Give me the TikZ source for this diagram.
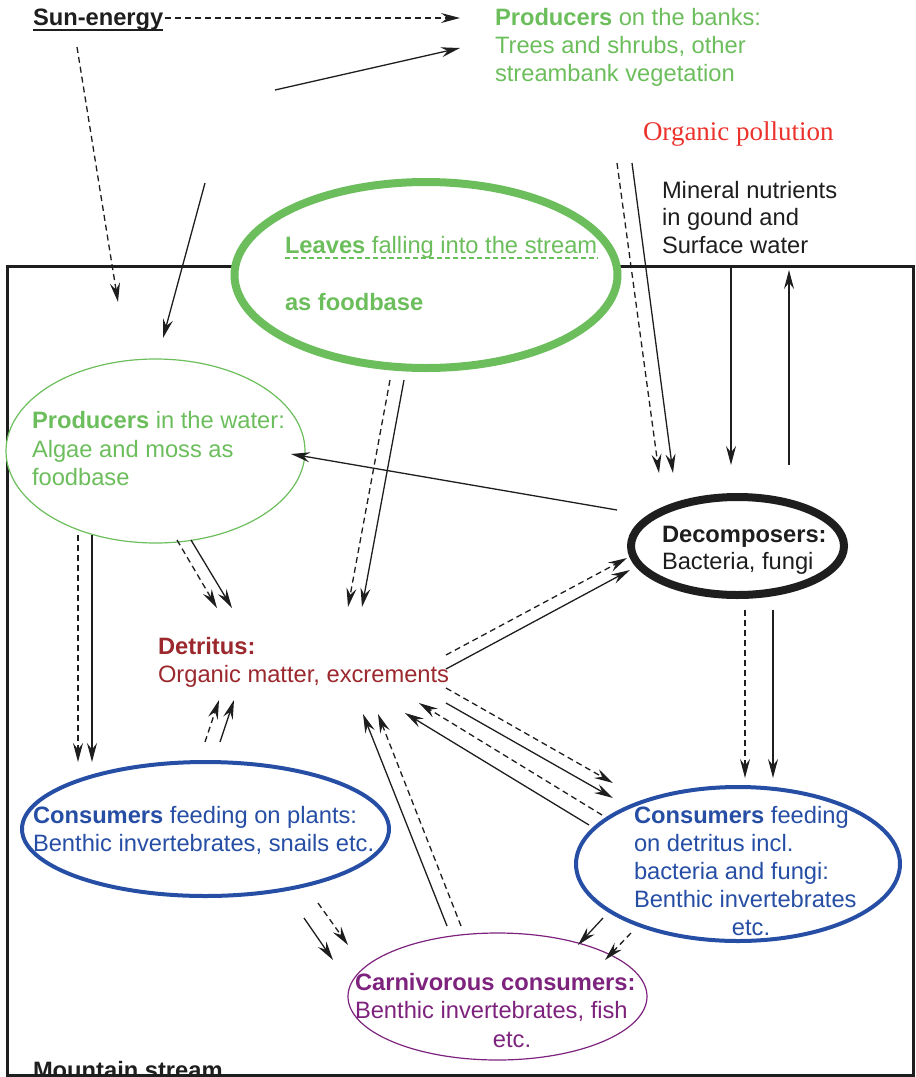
\documentclass[tikz,border=0pt]{standalone}
\usepackage{fontspec}
\setmainfont{Liberation Sans}
\newfontfamily\pollfont{Liberation Serif}
\usetikzlibrary{arrows.meta,shapes.geometric}
\definecolor{cgreen}{RGB}{108,190,92}
\definecolor{cblue}{RGB}{38,78,165}
\definecolor{cpurple}{RGB}{125,35,125}
\definecolor{cred}{RGB}{235,50,45}
\definecolor{cdet}{RGB}{155,40,45}
\definecolor{cblack}{RGB}{30,30,30}
\begin{document}
\begin{tikzpicture}[x=1pt,y=-1pt,
  flow/.style={line width=1.3pt,cblack,-{Stealth[length=19pt,width=10pt,inset=6.5pt]}},
  dflow/.style={flow,dash pattern=on 6pt off 4pt},
  txt/.style={anchor=base west,inner sep=0pt,outer sep=0pt,font=\fontsize{23.7}{28}\selectfont},
  btxt/.style={txt,font=\fontsize{23.7}{28}\selectfont\bfseries},
  blob/.style={ellipse,inner sep=0pt,outer sep=0pt,fill=white}]
\useasboundingbox (0,0) rectangle (916,1077);
% bottom label (partly hidden by frame)
\node[btxt,cblack] (mstream) at (33,1078) {Mountain stream};
% frame
\draw[line width=3pt,cblack] (7,266) rectangle (913,1075);
\fill[white] (0,1076.5) rectangle (916,1080);
% ellipses
\node[blob,draw=cgreen,line width=8pt,minimum width=383pt,minimum height=186pt] (leaves) at (426,275) {};
\node[blob,draw=cgreen,line width=1.2pt,minimum width=299pt,minimum height=184pt] (prodw) at (155.5,451) {};
\node[blob,draw=cblack,line width=8pt,minimum width=213pt,minimum height=98pt] (decomp) at (737.5,546) {};
\node[blob,draw=cblue,line width=4pt,minimum width=367pt,minimum height=134pt] (consp) at (205.5,829) {};
\node[blob,draw=cblue,line width=4pt,minimum width=324pt,minimum height=154pt] (consd) at (738,864) {};
\node[blob,draw=cpurple,line width=1.2pt,minimum width=299pt,minimum height=127pt] (carn) at (497.5,996.5) {};
% texts
\node[btxt,cblack] (sun) at (33,25) {Sun-energy};
\draw[line width=1.6pt,cblack] (sun.base west) ++(0,5) coordinate (su1) -- (sun.base east |- su1);
\node[txt,cgreen] (pb1) at (495,25) {\textbf{Producers} on the banks:};
\node[txt,cgreen] (pb2) at (495,53) {Trees and shrubs, other};
\node[txt,cgreen] (pb3) at (495,81) {streambank vegetation};
\node[txt,cred,font=\fontsize{27}{30}\pollfont] (poll) at (643,140) {Organic pollution};
\node[txt,cblack] (mn1) at (662,198) {Mineral nutrients};
\node[txt,cblack] (mn2) at (662,225.5) {in gound and};
\node[txt,cblack] (mn3) at (662,253) {Surface water};
\node[txt,cgreen] (lv1) at (285,253) {\textbf{Leaves} falling into the stream};
\draw[cgreen,line width=1.2pt,dash pattern=on 5pt off 3pt] (lv1.base west) ++(0,5) coordinate (lu1) -- (lv1.base east |- lu1);
\node[btxt,cgreen] (lv2) at (285,310) {as foodbase};
\node[txt,cgreen] (pw1) at (32,428) {\textbf{Producers} in the water:};
\node[txt,cgreen] (pw2) at (32,457) {Algae and moss as};
\node[txt,cgreen] (pw3) at (32,485) {foodbase};
\node[btxt,cdet] (dt1) at (158,654) {Detritus:};
\node[txt,cdet] (dt2) at (158,682) {Organic matter, excrements};
\node[btxt,cblack] (dc1) at (662,542) {Decomposers:};
\node[txt,cblack] (dc2) at (662,569) {Bacteria, fungi};
\node[txt,cblue] (cp1) at (33,823) {\textbf{Consumers} feeding on plants:};
\node[txt,cblue] (cp2) at (33,851) {Benthic invertebrates, snails etc.};
\node[txt,cblue] (cd1) at (634,823) {\textbf{Consumers} feeding};
\node[txt,cblue] (cd2) at (634,851) {on detritus incl.};
\node[txt,cblue] (cd3) at (634,879) {bacteria and fungi:};
\node[txt,cblue] (cd4) at (634,907) {Benthic invertebrates};
\node[txt,cblue,anchor=base] (cd5) at (751,935) {etc.};
\node[btxt,cpurple] (ca1) at (355,990) {Carnivorous consumers:};
\node[txt,cpurple] (ca2) at (355,1018) {Benthic invertebrates, fish};
\node[txt,cpurple,anchor=base] (ca3) at (512,1047) {etc.};
% connector end points
\coordinate (a1s) at (165,18);  \coordinate (a1e) at (460,18);
\coordinate (a2s) at (275,90);  \coordinate (a2e) at (460,48);
\coordinate (a3s) at (77,47);   \coordinate (a3e) at (118,302);
\coordinate (a4s) at (205,183); \coordinate (a4e) at (163,338);
\coordinate (a5s) at (617,163); \coordinate (a5e) at (659,473);
\coordinate (a6s) at (632,163); \coordinate (a6e) at (673,473);
\coordinate (a7s) at (731,267); \coordinate (a7e) at (731,465);
\coordinate (a8s) at (789,465); \coordinate (a8e) at (789,270);
\coordinate (a9s) at (390,380); \coordinate (a9e) at (348,607);
\coordinate (a10s) at (404,380); \coordinate (a10e) at (362,607);
\coordinate (a11s) at (617,510); \coordinate (a11e) at (291,454);
\coordinate (a12s) at (177,540); \coordinate (a12e) at (217,608);
\coordinate (a13s) at (191,540); \coordinate (a13e) at (232,608);
\coordinate (a14s) at (78,535);  \coordinate (a14e) at (78,762);
\coordinate (a15s) at (92,535);  \coordinate (a15e) at (92,762);
\coordinate (a16s) at (205,742); \coordinate (a16e) at (219,700);
\coordinate (a17s) at (220,742); \coordinate (a17e) at (234,700);
\coordinate (a18s) at (446,655); \coordinate (a18e) at (627,558);
\coordinate (a19s) at (446,669); \coordinate (a19e) at (630,570);
\coordinate (a20s) at (446,688); \coordinate (a20e) at (613,783);
\coordinate (a21s) at (446,703); \coordinate (a21e) at (613,798);
\coordinate (a22s) at (602,815); \coordinate (a22e) at (419,703);
\coordinate (a23s) at (589,825); \coordinate (a23e) at (405,713);
\coordinate (a24s) at (745,610); \coordinate (a24e) at (745,778);
\coordinate (a25s) at (773,610); \coordinate (a25e) at (773,778);
\coordinate (a26s) at (304,918); \coordinate (a26e) at (333,960);
\coordinate (a27s) at (318,903); \coordinate (a27e) at (348,945);
\coordinate (a28s) at (447,926); \coordinate (a28e) at (363,714);
\coordinate (a29s) at (461,926); \coordinate (a29e) at (378,714);
\coordinate (a30s) at (603,918); \coordinate (a30e) at (578,945);
\coordinate (a31s) at (631,933); \coordinate (a31e) at (605,960);
% connectors
\draw[dflow] (a1s) -- (a1e);
\draw[flow] (a2s) -- (a2e);
\draw[dflow] (a3s) -- (a3e);
\draw[flow] (a4s) -- (a4e);
\draw[dflow] (a5s) -- (a5e);
\draw[flow] (a6s) -- (a6e);
\draw[flow] (a7s) -- (a7e);
\draw[flow] (a8s) -- (a8e);
\draw[dflow] (a9s) -- (a9e);
\draw[flow] (a10s) -- (a10e);
\draw[flow] (a11s) -- (a11e);
\draw[dflow] (a12s) -- (a12e);
\draw[flow] (a13s) -- (a13e);
\draw[dflow] (a14s) -- (a14e);
\draw[flow] (a15s) -- (a15e);
\draw[dflow] (a16s) -- (a16e);
\draw[flow] (a17s) -- (a17e);
\draw[dflow] (a18s) -- (a18e);
\draw[flow] (a19s) -- (a19e);
\draw[dflow] (a20s) -- (a20e);
\draw[flow] (a21s) -- (a21e);
\draw[dflow] (a22s) -- (a22e);
\draw[flow] (a23s) -- (a23e);
\draw[dflow] (a24s) -- (a24e);
\draw[flow] (a25s) -- (a25e);
\draw[flow] (a26s) -- (a26e);
\draw[dflow] (a27s) -- (a27e);
\draw[flow] (a28s) -- (a28e);
\draw[dflow] (a29s) -- (a29e);
\draw[flow] (a30s) -- (a30e);
\draw[dflow] (a31s) -- (a31e);
\end{tikzpicture}
\end{document}
